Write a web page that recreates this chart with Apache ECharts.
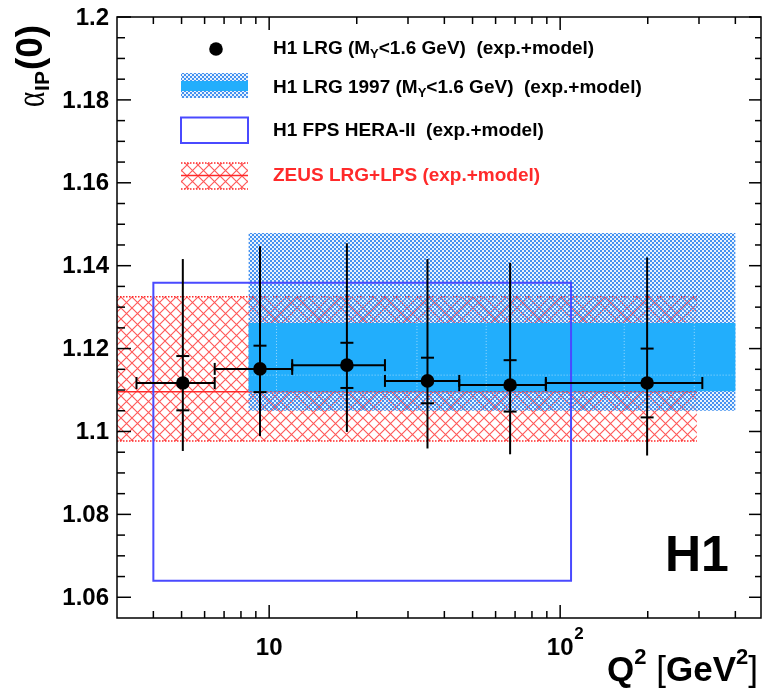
<!DOCTYPE html>
<html><head><meta charset="utf-8">
<script src="https://cdn.jsdelivr.net/npm/echarts@6/dist/echarts.min.js"></script>
<style>html,body{margin:0;padding:0;background:#fff}#c{width:762px;height:694px}</style>
</head><body><div id="c"></div>
<script>
// ---------------- data ----------------
const X_RANGE = [3, 490];
const Y_RANGE = [1.055, 1.2];

// H1 LRG (this measurement)
const q2Center   = [5.05, 9.3, 18.5, 35.0, 67.3, 199];
const q2BinLow   = [3.5, 6.5, 12.0, 25.0, 45.0, 89.3];
const q2BinHigh  = [6.5, 12.0, 25.0, 45.0, 89.3, 308];
const alphaVal      = [1.1117, 1.1151, 1.1160, 1.1122, 1.1112, 1.1117];
const alphaStatLow  = [1.1051, 1.1095, 1.1105, 1.1068, 1.1048, 1.1034];
const alphaStatHigh = [1.1182, 1.1207, 1.1214, 1.1178, 1.1172, 1.1200];
const alphaTotLow   = [1.0953, 1.0989, 1.0999, 1.0959, 1.0945, 1.0942];
const alphaTotHigh  = [1.1416, 1.1447, 1.1454, 1.1416, 1.1407, 1.1420];

// H1 LRG 1997 band
const lrg1997Q2      = [8.5, 400];
const lrg1997Total   = [1.1050, 1.1479];
const lrg1997Exp     = [1.1097, 1.1262];
const lrg1997Central = [1.1136];
const lrg1997BinEdges = [10.6, 32.2, 55.7, 166, 289];

// H1 FPS HERA-II box
const fpsQ2    = [4.0, 109];
const fpsAlpha = [1.0640, 1.1359];

// ZEUS LRG+LPS band
const zeusQ2      = [3.0, 295];
const zeusAlpha   = [1.0977, 1.1325];
const zeusCentral = [1.1096];

// axis ticks & labels
const xMajorTicks = [10, 100];
const xTickLabels = ['10', '10'];
const xTickSup    = ['', '2'];
const xMinorTicks = [4, 5, 6, 7, 8, 9, 20, 30, 40, 50, 60, 70, 80, 90, 200, 300, 400];
const yMajorTicks = [1.06, 1.08, 1.10, 1.12, 1.14, 1.16, 1.18, 1.20];
const yTickLabels = ['1.06', '1.08', '1.1', '1.12', '1.14', '1.16', '1.18', '1.2'];
const yMinorTicks = [1.065, 1.07, 1.075, 1.085, 1.09, 1.095, 1.105, 1.11, 1.115, 1.125, 1.13, 1.135,
                     1.145, 1.15, 1.155, 1.165, 1.17, 1.175, 1.185, 1.19, 1.195];

const legendTexts = ['H1 LRG (M|Y|<1.6 GeV)  (exp.+model)', 'H1 LRG 1997 (M|Y|<1.6 GeV)  (exp.+model)',
                     'H1 FPS HERA-II  (exp.+model)', 'ZEUS LRG+LPS (exp.+model)'];

// ---------------- styles ----------------
const SANS = '"Liberation Sans", Arial, Helvetica, sans-serif';
const BLUE_SOLID = '#22aefc';
const FPS_BLUE = '#4a4aff';
const RED = '#ff2a2a';

function bluePattern() {
  const c = document.createElement('canvas'); c.width = 4; c.height = 4;
  const g = c.getContext('2d');
  g.fillStyle = '#4592f0';
  g.fillRect(2, 0, 2, 2); g.fillRect(0, 2, 2, 2);
  g.fillStyle = 'rgba(69,146,240,0.12)';
  g.fillRect(0, 0, 2, 2); g.fillRect(2, 2, 2, 2);
  return c;
}
function redPattern() {
  const s = 11;
  const c = document.createElement('canvas'); c.width = s; c.height = s;
  const g = c.getContext('2d');
  g.strokeStyle = 'rgba(255,45,45,0.8)'; g.lineWidth = 1.1;
  g.beginPath();
  g.moveTo(-1, -1); g.lineTo(s + 1, s + 1);
  g.moveTo(-1, s + 1); g.lineTo(s + 1, -1);
  g.stroke();
  return c;
}
const BLUE_HATCH = { image: bluePattern(), repeat: 'repeat' };
const RED_HATCH = { image: redPattern(), repeat: 'repeat' };

const measureCtx = document.createElement('canvas').getContext('2d');
function tw(text, font) { measureCtx.font = font; return measureCtx.measureText(text).width; }

// ---------------- helpers ----------------
function rectOf(api, x0, x1, y0, y1) {
  const a = api.coord([x0, y1]); const b = api.coord([x1, y0]);
  return { x: a[0], y: a[1], width: b[0] - a[0], height: b[1] - a[1] };
}
function hline(api, x0, x1, y, style) {
  const a = api.coord([x0, y]); const b = api.coord([x1, y]);
  return { type: 'line', shape: { x1: a[0], y1: a[1], x2: b[0], y2: b[1] }, style };
}

// ---------------- series ----------------
const zeusSeries = {
  type: 'custom', z: 2, silent: true, clip: true,
  data: [[zeusQ2[0], zeusAlpha[0], zeusQ2[1], zeusAlpha[1], zeusCentral[0]]],
  encode: { x: [0, 2], y: [1, 3, 4] },
  renderItem(p, api) {
    const x0 = api.value(0), y0 = api.value(1), x1 = api.value(2), y1 = api.value(3), yc = api.value(4);
    return { type: 'group', children: [
      { type: 'rect', shape: rectOf(api, x0, x1, y0, y1), style: { fill: RED_HATCH } },
      hline(api, x0, x1, y1, { stroke: RED, lineWidth: 1.5, lineDash: [1.5, 1.5] }),
      hline(api, x0, x1, y0, { stroke: RED, lineWidth: 1.5, lineDash: [1.5, 1.5] }),
      hline(api, x0, x1, yc, { stroke: RED, lineWidth: 1.5 })
    ]};
  }
};

const lrg1997Series = {
  type: 'custom', z: 3, silent: true, clip: true,
  data: [[lrg1997Q2[0], lrg1997Total[0], lrg1997Q2[1], lrg1997Total[1], lrg1997Exp[0], lrg1997Exp[1], lrg1997Central[0]]],
  encode: { x: [0, 2], y: [1, 3, 4, 5, 6] },
  renderItem(p, api) {
    const x0 = api.value(0), t0 = api.value(1), x1 = api.value(2), t1 = api.value(3),
          e0 = api.value(4), e1 = api.value(5), c = api.value(6);
    const ch = [
      { type: 'rect', shape: rectOf(api, x0, x1, t0, t1), style: { fill: BLUE_HATCH } },
      { type: 'rect', shape: rectOf(api, x0, x1, e0, e1), style: { fill: BLUE_SOLID } },
      hline(api, x0, x1, c, { stroke: 'rgba(255,255,255,0.55)', lineWidth: 1, lineDash: [1, 2] })
    ];
    lrg1997BinEdges.forEach(v => {
      const a = api.coord([v, e1]); const b = api.coord([v, e0]);
      ch.push({ type: 'line', shape: { x1: a[0], y1: a[1], x2: b[0], y2: b[1] },
        style: { stroke: 'rgba(255,255,255,0.55)', lineWidth: 1, lineDash: [1, 2] } });
    });
    return { type: 'group', children: ch };
  }
};

const fpsSeries = {
  type: 'custom', z: 4, silent: true, clip: true,
  data: [[fpsQ2[0], fpsAlpha[0], fpsQ2[1], fpsAlpha[1]]],
  encode: { x: [0, 2], y: [1, 3] },
  renderItem(p, api) {
    return { type: 'rect', shape: rectOf(api, api.value(0), api.value(2), api.value(1), api.value(3)),
      style: { fill: null, stroke: FPS_BLUE, lineWidth: 2 } };
  }
};

const pointsData = q2Center.map((q, i) => [q, alphaVal[i], q2BinLow[i], q2BinHigh[i],
  alphaStatLow[i], alphaStatHigh[i], alphaTotLow[i], alphaTotHigh[i]]);
const pointsSeries = {
  type: 'custom', z: 5, silent: true, clip: false,
  data: pointsData,
  encode: { x: [0, 2, 3], y: [1, 4, 5, 6, 7] },
  renderItem(p, api) {
    const x = api.value(0), y = api.value(1);
    const c = api.coord([x, y]);
    const l = api.coord([api.value(2), y]), h = api.coord([api.value(3), y]);
    const sb = api.coord([x, api.value(4)]), st = api.coord([x, api.value(5)]);
    const tb = api.coord([x, api.value(6)]), tt = api.coord([x, api.value(7)]);
    const ls = { stroke: '#000', lineWidth: 2 };
    const L = (x1, y1, x2, y2) => ({ type: 'line', shape: { x1, y1, x2, y2 }, style: ls });
    return { type: 'group', children: [
      L(l[0], l[1], h[0], h[1]),
      L(l[0], l[1] - 6, l[0], l[1] + 6),
      L(h[0], h[1] - 6, h[0], h[1] + 6),
      L(tt[0], tt[1], tb[0], tb[1]),
      L(st[0] - 6.5, st[1], st[0] + 6.5, st[1]),
      L(sb[0] - 6.5, sb[1], sb[0] + 6.5, sb[1]),
      { type: 'circle', shape: { cx: c[0], cy: c[1], r: 6.8 }, style: { fill: '#000' } }
    ]};
  }
};

// frame + ticks
const frameSeries = {
  type: 'custom', z: 6, silent: true, clip: false,
  data: [[X_RANGE[0], Y_RANGE[0], X_RANGE[1], Y_RANGE[1]]],
  encode: { x: [0, 2], y: [1, 3] },
  renderItem(p, api) {
    const r = rectOf(api, api.value(0), api.value(2), api.value(1), api.value(3));
    return { type: 'rect', shape: r, style: { fill: null, stroke: '#000', lineWidth: 1.5 } };
  }
};
const xTickData = xMajorTicks.map(v => [v, Y_RANGE[0], 1]).concat(xMinorTicks.map(v => [v, Y_RANGE[0], 0]));
const xTickSeries = {
  type: 'custom', z: 6, silent: true, clip: false,
  data: xTickData,
  renderItem(p, api) {
    const v = api.value(0), major = api.value(2) === 1;
    const b = api.coord([v, Y_RANGE[0]]), t = api.coord([v, Y_RANGE[1]]);
    const len = major ? 13 : 7;
    const s = { stroke: '#000', lineWidth: 1.5 };
    return { type: 'group', children: [
      { type: 'line', shape: { x1: b[0], y1: b[1], x2: b[0], y2: b[1] - len }, style: s },
      { type: 'line', shape: { x1: t[0], y1: t[1], x2: t[0], y2: t[1] + len }, style: s }
    ]};
  }
};
const yTickData = yMajorTicks.map(v => [X_RANGE[0], v, 1]).concat(yMinorTicks.map(v => [X_RANGE[0], v, 0]));
const yTickSeries = {
  type: 'custom', z: 6, silent: true, clip: false,
  data: yTickData,
  renderItem(p, api) {
    const v = api.value(1), major = api.value(2) === 1;
    const l = api.coord([X_RANGE[0], v]), r = api.coord([X_RANGE[1], v]);
    const s = { stroke: '#000', lineWidth: 1.5 };
    return { type: 'group', children: [
      { type: 'line', shape: { x1: l[0], y1: l[1], x2: l[0] + (major ? 14 : 8), y2: l[1] }, style: s },
      { type: 'line', shape: { x1: r[0], y1: r[1], x2: r[0] - (major ? 12 : 6), y2: r[1] }, style: s }
    ]};
  }
};
const TICK_FONT = 'bold 24px ' + SANS;
const yLabelSeries = {
  type: 'custom', z: 6, silent: true, clip: false,
  data: yMajorTicks.map((v, i) => [X_RANGE[0], v, i]),
  renderItem(p, api) {
    const c = api.coord([X_RANGE[0], api.value(1)]);
    return { type: 'text', x: c[0] - 8, y: c[1] + 1,
      style: { text: yTickLabels[api.value(2)], font: TICK_FONT, fill: '#000', align: 'right', verticalAlign: 'middle' } };
  }
};
const xLabelSeries = {
  type: 'custom', z: 6, silent: true, clip: false,
  data: xMajorTicks.map((v, i) => [v, Y_RANGE[0], i]),
  renderItem(p, api) {
    const i = api.value(2);
    const c = api.coord([api.value(0), Y_RANGE[0]]);
    const ch = [{ type: 'text', x: c[0], y: c[1] + 30,
      style: { text: xTickLabels[i], font: TICK_FONT, fill: '#000', align: 'center', verticalAlign: 'middle' } }];
    if (xTickSup[i]) {
      ch.push({ type: 'text', x: c[0] + 14, y: c[1] + 16,
        style: { text: xTickSup[i], font: 'bold 17px ' + SANS, fill: '#000', align: 'left', verticalAlign: 'middle' } });
    }
    return { type: 'group', children: ch };
  }
};

// ---------------- graphic (legend, titles) ----------------
const LEG_FONT = 'bold 19px ' + SANS;
const SUB_FONT = 'bold 13px ' + SANS;
function richLine(str, x, y, fill) {
  const parts = str.split('|');
  const out = []; let cx = x;
  parts.forEach((t, k) => {
    const isSub = k % 2 === 1;
    const font = isSub ? SUB_FONT : LEG_FONT;
    out.push({ type: 'text', x: cx, y: isSub ? y + 5 : y,
      style: { text: t, font, fill, align: 'left', verticalAlign: 'middle' } });
    cx += tw(t, font);
  });
  return out;
}
const LX0 = 181, LX1 = 248, TX = 273;
const graphics = [];
// row 1
graphics.push({ type: 'circle', shape: { cx: 216, cy: 49, r: 6.8 }, style: { fill: '#000' } });
graphics.push(...richLine(legendTexts[0], TX, 49, '#000'));
// row 2
graphics.push({ type: 'rect', shape: { x: LX0, y: 73, width: LX1 - LX0, height: 25 }, style: { fill: BLUE_HATCH } });
graphics.push({ type: 'rect', shape: { x: LX0, y: 81, width: LX1 - LX0, height: 10 }, style: { fill: BLUE_SOLID } });
graphics.push(...richLine(legendTexts[1], TX, 88, '#000'));
// row 3
graphics.push({ type: 'rect', shape: { x: LX0, y: 117.5, width: LX1 - LX0, height: 25.5 }, style: { fill: null, stroke: FPS_BLUE, lineWidth: 2 } });
graphics.push(...richLine(legendTexts[2], TX, 131, '#000'));
// row 4
graphics.push({ type: 'rect', shape: { x: LX0, y: 163, width: LX1 - LX0, height: 26 }, style: { fill: RED_HATCH } });
graphics.push({ type: 'line', shape: { x1: LX0, y1: 163, x2: LX1, y2: 163 }, style: { stroke: RED, lineWidth: 1.5, lineDash: [1.5, 1.5] } });
graphics.push({ type: 'line', shape: { x1: LX0, y1: 189, x2: LX1, y2: 189 }, style: { stroke: RED, lineWidth: 1.5, lineDash: [1.5, 1.5] } });
graphics.push({ type: 'line', shape: { x1: LX0, y1: 175.5, x2: LX1, y2: 175.5 }, style: { stroke: RED, lineWidth: 1.5 } });
graphics.push(...richLine(legendTexts[3], TX, 176, RED));

// H1 label
graphics.push({ type: 'text', x: 665, y: 557, style: { text: 'H1', font: 'bold 50px ' + SANS, fill: '#000', align: 'left', verticalAlign: 'middle' } });

// x-axis title: Q^2 [GeV^2]
(function () {
  const big = 'bold 35px ' + SANS, brk = '35px ' + SANS, sup = 'bold 22px ' + SANS;
  const parts = [['Q', big, 0], ['2', sup, -13], [' ', big, 0], ['[', brk, 0], ['GeV', big, 0], ['2', sup, -13], [']', brk, 0]];
  let total = 0; parts.forEach(p => total += tw(p[0], p[1]));
  let cx = 758 - total; const y = 671;
  parts.forEach(p => {
    graphics.push({ type: 'text', x: cx, y: y + p[2], style: { text: p[0], font: p[1], fill: '#000', align: 'left', verticalAlign: 'middle' } });
    cx += tw(p[0], p[1]);
  });
})();

// y-axis title: alpha_IP(0), rotated
(function () {
  const aFont = '40px "Liberation Serif", "DejaVu Serif", serif';
  const sFont = 'bold 21px ' + SANS;
  const pFont = 'bold 37px ' + SANS;
  const wa = tw('α', aFont), ws = tw('IP', sFont);
  graphics.push({
    type: 'group', x: 33, y: 107, rotation: Math.PI / 2,
    children: [
      { type: 'text', x: 0, y: 0, scaleX: 0.72, style: { text: 'α', font: aFont, fill: '#000', align: 'left', verticalAlign: 'middle' } },
      { type: 'text', x: wa * 0.72 + 1, y: 10, style: { text: 'IP', font: sFont, fill: '#000', align: 'left', verticalAlign: 'middle' } },
      { type: 'text', x: wa * 0.72 + ws + 2, y: -1, style: { text: '(0)', font: pFont, fill: '#000', align: 'left', verticalAlign: 'middle' } }
    ]
  });
})();

// ---------------- chart ----------------
const chart = echarts.init(document.getElementById('c'), null, { renderer: 'canvas', width: 762, height: 694 });
chart.setOption({
  animation: false,
  backgroundColor: '#fff',
  grid: { left: 117, right: 1, top: 17, bottom: 76, containLabel: false, outerBoundsMode: 'none' },
  xAxis: { type: 'log', logBase: 10, min: X_RANGE[0], max: X_RANGE[1],
    axisLine: { show: false }, axisTick: { show: false }, axisLabel: { show: false }, splitLine: { show: false } },
  yAxis: { type: 'value', min: Y_RANGE[0], max: Y_RANGE[1],
    axisLine: { show: false }, axisTick: { show: false }, axisLabel: { show: false }, splitLine: { show: false } },
  series: [zeusSeries, lrg1997Series, fpsSeries, pointsSeries, frameSeries, xTickSeries, yTickSeries, yLabelSeries, xLabelSeries],
  graphic: graphics
});
</script>
</body></html>
